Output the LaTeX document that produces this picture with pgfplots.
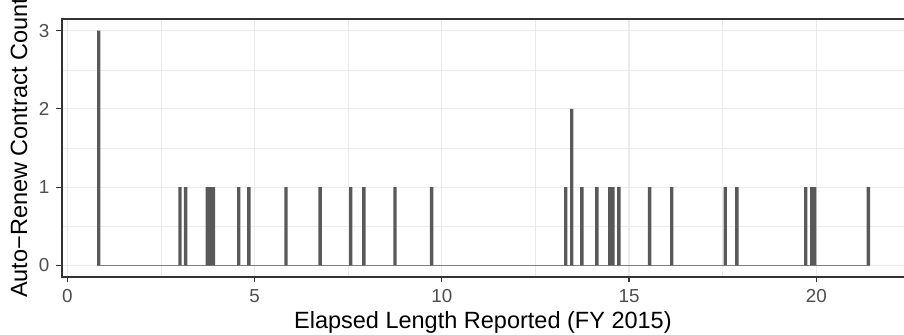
\documentclass[border=0pt]{standalone}
\usepackage{fontspec}
\setmainfont{Liberation Sans}
\usepackage{pgfplots}
\pgfplotsset{compat=1.18}
\definecolor{barcol}{HTML}{595959}
\definecolor{basecol}{HTML}{7F7F7F}
\definecolor{gridcol}{HTML}{EBEBEB}
\definecolor{bordercol}{HTML}{333333}
\definecolor{ticklab}{HTML}{4D4D4D}
\begin{document}
\begin{tikzpicture}
\useasboundingbox (-31pt,-29pt) rectangle (421pt,138.5pt);
\clip (-31pt,-29pt) rectangle (421pt,138.5pt);
\begin{axis}[
  scale only axis, width=426pt, height=129pt,
  xmin=-0.1415, xmax=22.61, ymin=-0.15, ymax=3.15,
  axis line style={bordercol, line width=0.55pt},
  xtick={0,5,10,15,20}, ytick={0,1,2,3},
  minor xtick={2.5,7.5,12.5,17.5,22.5}, minor ytick={0.5,1.5,2.5},
  grid=both,
  major grid style={gridcol, line width=0.55pt},
  minor grid style={gridcol, line width=0.27pt},
  tick align=outside, major tick length=2.75pt, minor tick length=0pt,
  tick style={bordercol, line width=0.55pt},
  xtick pos=left, ytick pos=left,
  ticklabel style={font=\fontsize{9.4}{11}\selectfont, text=ticklab},
  /pgf/number format/assume math mode=true,
  xlabel={Elapsed Length Reported (FY 2015)},
  ylabel={Auto−Renew Contract Count},
  label style={font=\fontsize{11.75}{14}\selectfont},
  xlabel style={at={(axis description cs:0.494,-0.1744)}, anchor=center},
  ylabel style={at={(axis description cs:-0.0505,0.5)}, anchor=center},
]
\addplot[draw=basecol, line width=0.6pt] coordinates {(0.80,0) (21.43,0)};
\addplot[ybar, bar width=0.09, fill=barcol, draw=none] coordinates {
(0.84,3) (3.01,1) (3.16,1) (3.74,1) (3.82,1) (3.90,1) (4.58,1) (4.85,1)
(5.84,1) (6.75,1) (7.57,1) (7.92,1) (8.75,1) (9.73,1) (13.31,1) (13.47,2)
(13.74,1) (14.14,1) (14.49,1) (14.57,1) (14.73,1) (15.55,1) (16.14,1)
(17.57,1) (17.88,1) (19.72,1) (19.88,1) (19.96,1) (21.39,1)};
\end{axis}
\end{tikzpicture}
\end{document}
